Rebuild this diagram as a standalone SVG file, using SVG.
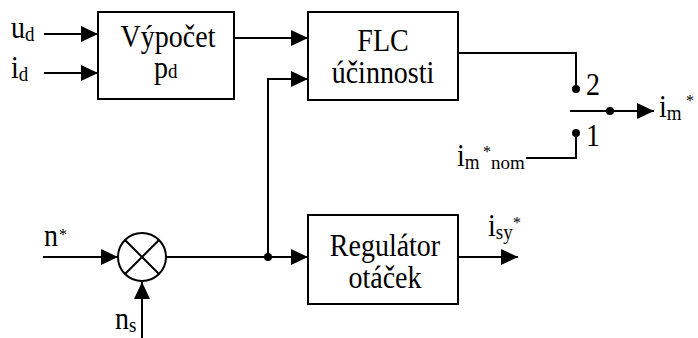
<svg xmlns="http://www.w3.org/2000/svg" width="698" height="338" viewBox="0 0 698 338">
  <style>
    .box { fill: #fff; stroke: #000; stroke-width: 2; }
    .wire { fill: none; stroke: #000; stroke-width: 2; }
    .arr { marker-end: url(#head); }
    .dot { fill: #000; }
    text { font-family: "Liberation Serif", "Times New Roman", serif; fill: #000; }
    .big { font-size: 28px; }
    .lbl { font-size: 28px; }
    .sub { font-size: 19px; }
    .sup { font-size: 16px; }
    .mid { text-anchor: middle; }
  </style>
  <defs>
    <marker id="head" markerUnits="userSpaceOnUse" markerWidth="17" markerHeight="16" refX="17" refY="8" orient="auto">
      <path d="M0,0 L17,8 L0,16 z" fill="#000"/>
    </marker>
  </defs>

  <!-- connectors -->
  <g id="connectors">
    <path class="wire arr" d="M44,34 H98"/>
    <path class="wire arr" d="M44,73 H98"/>
    <path class="wire arr" d="M234,38 H308"/>
    <path class="wire arr" d="M268,257 V79 H308"/>
    <path class="wire" d="M458,53 H576 V89"/>
    <path class="wire" d="M576,133 V158 H526"/>
    <path class="wire arr" d="M570,111 H654"/>
    <path class="wire arr" d="M43,257 H118"/>
    <path class="wire arr" d="M142,338 V282"/>
    <path class="wire arr" d="M166,257 H308"/>
    <path class="wire arr" d="M458,257 H518"/>
    <circle class="dot" cx="268" cy="257" r="4"/>
    <circle class="dot" cx="576" cy="89" r="4"/>
    <circle class="dot" cx="576" cy="133" r="4"/>
    <circle class="dot" cx="610" cy="111" r="4"/>
  </g>

  <!-- power calculation block -->
  <g id="vypocet">
    <rect class="box" x="98" y="12" width="136" height="87"/>
    <text class="big mid" transform="translate(168,47) scale(1,1.1)">Výpočet</text>
    <text class="big" transform="translate(154,78) scale(1,1.1)">p<tspan class="sub">d</tspan></text>
  </g>

  <!-- fuzzy efficiency controller -->
  <g id="flc">
    <rect class="box" x="308" y="12" width="150" height="88"/>
    <text class="big mid" transform="translate(383,51) scale(1,1.1)">FLC</text>
    <text class="big mid" transform="translate(383,83) scale(1,1.1)">účinnosti</text>
  </g>

  <!-- speed controller -->
  <g id="regulator">
    <rect class="box" x="308" y="215" width="150" height="89"/>
    <text class="big mid" transform="translate(385,256) scale(1,1.1)">Regulátor</text>
    <text class="big mid" transform="translate(385,288) scale(1,1.1)">otáček</text>
  </g>

  <!-- summing junction -->
  <g id="sum">
    <circle class="box" cx="142" cy="257" r="24"/>
    <path class="wire" d="M125,240 L159,274 M159,240 L125,274"/>
  </g>

  <!-- switch contacts -->
  <g id="switch">
    <text class="lbl" transform="translate(586,95) scale(1,1.1)">2</text>
    <text class="lbl" transform="translate(586,146) scale(1,1.1)">1</text>
  </g>

  <!-- signal labels -->
  <g id="labels">
    <text class="lbl" transform="translate(11,38) scale(1,1.1)">u<tspan class="sub" dy="3">d</tspan></text>
    <text class="lbl" transform="translate(11,78) scale(1,1.1)">i<tspan class="sub" dy="3">d</tspan></text>
    <text class="lbl" transform="translate(44,246) scale(1,1.1)">n</text>
    <text class="sup" x="59" y="240">*</text>
    <text class="lbl" transform="translate(115,329) scale(1,1.1)">n<tspan class="sub" dy="3">s</tspan></text>
    <text class="lbl" transform="translate(488,236) scale(1,1.1)">i<tspan class="sub" dy="3">sy</tspan></text>
    <text class="sup" x="513" y="228">*</text>
    <text class="lbl" transform="translate(659,117) scale(1,1.1)">i<tspan class="sub" dy="3">m</tspan></text>
    <text class="sup" x="686" y="106">*</text>
    <text class="lbl" transform="translate(457,166) scale(1,1.1)">i<tspan class="sub" dy="3">m</tspan></text>
    <text class="sup" x="483" y="157">*</text>
    <text class="sub" x="491" y="169">nom</text>
  </g>
</svg>
